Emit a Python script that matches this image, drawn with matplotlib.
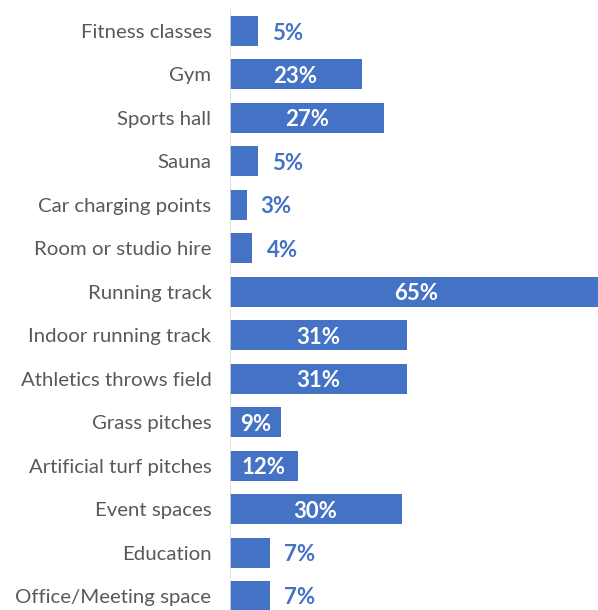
import matplotlib
matplotlib.use("Agg")
import matplotlib.pyplot as plt
from matplotlib.transforms import offset_copy

categories = ["Fitness classes", "Gym", "Sports hall", "Sauna", "Car charging points",
              "Room or studio hire", "Running track", "Indoor running track",
              "Athletics throws field", "Grass pitches", "Artificial turf pitches",
              "Event spaces", "Education", "Office/Meeting space"]
values = [5, 23, 27, 5, 3, 4, 65, 31, 31, 9, 12, 30, 7, 7]
labels = [f"{v}%" for v in values]

BAR = "#4472C4"
plt.rcParams['font.family'] = ['Lato', 'DejaVu Sans']

fig = plt.figure(figsize=(5.98, 6.10), dpi=100)
ax = fig.add_axes([229.5/598, 0, 1 - 229.5/598, 1])
n = len(categories)
pos = list(range(n))
ax.barh(pos, values, height=0.69, color=BAR)
xmax = (598 - 229.5) / 5.74
ax.set_xlim(0, xmax)
ax.set_ylim((610 - 31) / 43.46, -31 / 43.46)
for s in ax.spines.values():
    s.set_visible(False)
ax.vlines(0, -0.5, n - 0.5, color="#D9D9D9", lw=1.2)
ax.set_xticks([])
ax.set_yticks(pos)
ax.set_yticklabels(categories, fontsize=14.7, color="#595959")
ax.tick_params(axis="y", length=0, pad=13)

tr_in = offset_copy(ax.transData, fig=fig, x=0, y=-2, units="dots")
tr_out = offset_copy(ax.transData, fig=fig, x=14, y=-2, units="dots")
for p, v, lab in zip(pos, values, labels):
    if v >= 8:
        ax.text(v / 2, p, lab, ha="center", va="center", color="white",
                fontsize=16, fontweight="bold", transform=tr_in)
    else:
        ax.text(v, p, lab, ha="left", va="center", color=BAR,
                fontsize=16, fontweight="bold", transform=tr_out)

fig.savefig("out.png", dpi=100)
